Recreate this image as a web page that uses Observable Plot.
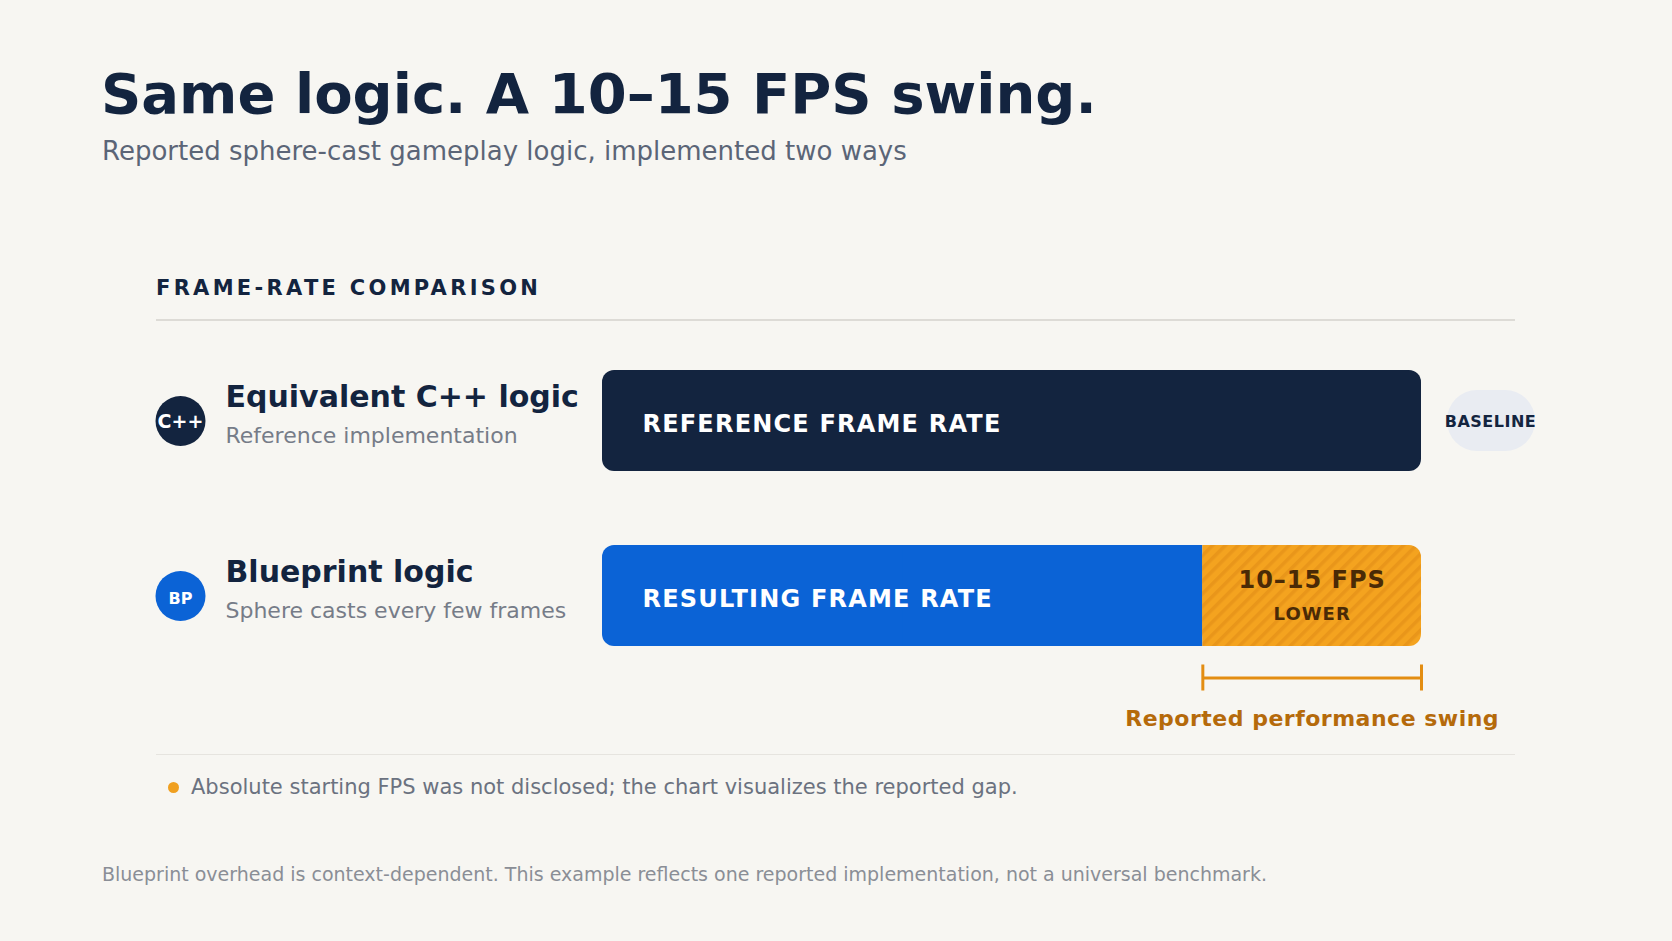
<!DOCTYPE html>
<html>
<head>
<meta charset="utf-8">
<script src="https://cdn.jsdelivr.net/npm/d3@7"></script>
<script src="https://cdn.jsdelivr.net/npm/@observablehq/plot@0.6"></script>
<style>
  html, body { margin: 0; padding: 0; background: #f7f6f2; }
  body { width: 1672px; height: 941px; position: relative; overflow: hidden; font-family: "DejaVu Sans", sans-serif; }
  .abs { position: absolute; white-space: nowrap; line-height: 1; }
  #title { left: 101px; top: 66px; font-size: 56px; font-weight: bold; color: #13243f; }
  #subtitle { left: 102px; top: 138px; font-size: 26px; color: #5b6577; }
  #section { left: 156px; top: 278px; font-size: 21px; font-weight: bold; color: #13243f; letter-spacing: 3.3px; }
  .rule { position: absolute; left: 156px; width: 1359px; }
  #rule1 { top: 319px; height: 2px; background: #dddbd6; }
  #rule2 { top: 754px; height: 1px; background: #e6e4df; }
  #notedot { position: absolute; left: 168px; top: 782px; width: 11px; height: 11px; border-radius: 50%; background: #f0a020; }
  #note { left: 191px; top: 777px; font-size: 21px; color: #6b7280; }
  #footer { left: 102px; top: 865px; font-size: 19px; color: #8a8e96; }
  #chart { position: absolute; left: 0; top: 330px; }
</style>
</head>
<body>
<div id="title" class="abs"></div>
<div id="subtitle" class="abs"></div>
<div id="section" class="abs"></div>
<div id="rule1" class="rule"></div>
<div id="chart"></div>
<div id="rule2" class="rule"></div>
<div id="notedot"></div>
<div id="note" class="abs"></div>
<div id="footer" class="abs"></div>
<script>
// ---- text ----
const titleText = "Same logic. A 10–15 FPS swing.";
const subtitleText = "Reported sphere-cast gameplay logic, implemented two ways";
const sectionText = "FRAME-RATE COMPARISON";
const noteText = "Absolute starting FPS was not disclosed; the chart visualizes the reported gap.";
const footerText = "Blueprint overhead is context-dependent. This example reflects one reported implementation, not a universal benchmark.";

// ---- data ----
const rows = ["Equivalent C++ logic", "Blueprint logic"];
const rowSubtitles = ["Reference implementation", "Sphere casts every few frames"];
const badges = ["C++", "BP"];
const barLabels = ["REFERENCE FRAME RATE", "RESULTING FRAME RATE"];
const relativeFrameRate = [100, 73.3];   // illustrative relative widths (absolute FPS not disclosed)
const swingAmount = "10–15 FPS";
const swingQualifier = "LOWER";
const baselineLabel = "BASELINE";
const swingCaption = "Reported performance swing";

document.getElementById("title").textContent = titleText;
document.getElementById("subtitle").textContent = subtitleText;
document.getElementById("section").textContent = sectionText;
document.getElementById("note").textContent = noteText;
document.getElementById("footer").textContent = footerText;

const navy = "#13243f", blue = "#0b63d6", orangeKey = "#f3a11e";
const rowData = rows.map((r, i) => ({
  row: r, sub: rowSubtitles[i], badge: badges[i], label: barLabels[i],
  value: relativeFrameRate[i], color: i === 0 ? navy : blue
}));
const gapDatum = { row: rows[1], start: relativeFrameRate[1], end: relativeFrameRate[0], amount: swingAmount, qual: swingQualifier };
const gapEnds = [{ row: rows[1], x: gapDatum.start }, { row: rows[1], x: gapDatum.end }];
const mid = d => (d.start + d.end) / 2;

const plot = Plot.plot({
  width: 1672, height: 420,
  marginLeft: 602, marginRight: 251, marginTop: 40, marginBottom: 104,
  x: { domain: [0, relativeFrameRate[0]], axis: null },
  y: { domain: rows, axis: null, paddingInner: 74 / 175, paddingOuter: 0 },
  color: { type: "identity" },
  style: { background: "transparent", fontFamily: "DejaVu Sans", overflow: "visible" },
  marks: [
    // reference bar
    Plot.barX([rowData[0]], { x1: 0, x2: "value", y: "row", fill: navy, rx: 12 }),
    // resulting bar (rounded left, square right)
    Plot.barX([rowData[1]], { x1: 0, x2: "value", y: "row", fill: blue, rx: 12 }),
    Plot.barX([rowData[1]], { x1: d => d.value / 2, x2: "value", y: "row", fill: blue }),
    // swing segment (square left, rounded right)
    Plot.barX([gapDatum], { x1: "start", x2: "end", y: "row", fill: orangeKey, rx: 12 }),
    Plot.barX([gapDatum], { x1: "start", x2: mid, y: "row", fill: orangeKey }),
    // baseline pill
    Plot.barX([rowData[0]], { x1: "value", x2: "value", y: "row", insetLeft: 26, insetRight: -114, insetTop: 20, insetBottom: 20, rx: 30, fill: "#e9ecf2" }),
    Plot.text([rowData[0]], { x: "value", y: "row", dx: 69, dy: 1, text: () => baselineLabel, fill: navy, fontWeight: "bold", fontSize: 16 }),
    // badges
    Plot.dot(rowData, { x: 0, y: "row", dx: -422, r: 25, fill: "color", stroke: null }),
    Plot.text([rowData[0]], { x: 0, y: "row", dx: -422, dy: 1, text: "badge", fill: "white", fontWeight: "bold", fontSize: 19 }),
    Plot.text([rowData[1]], { x: 0, y: "row", dx: -422, dy: 3, text: "badge", fill: "white", fontWeight: "bold", fontSize: 16 }),
    // row labels
    Plot.text(rowData, { x: 0, y: "row", dx: -377, dy: -24, text: "row", textAnchor: "start", fill: navy, fontWeight: "bold", fontSize: 30 }),
    Plot.text(rowData, { x: 0, y: "row", dx: -377, dy: 15, text: "sub", textAnchor: "start", fill: "#767c88", fontSize: 22 }),
    // in-bar labels
    Plot.text(rowData, { x: 0, y: "row", dx: 40, dy: 3.5, text: "label", textAnchor: "start", fill: "white", fontWeight: "bold", fontSize: 24 }),
    // swing labels
    Plot.text([gapDatum], { x: mid, y: "row", dy: -16, text: "amount", fill: "#4a2a06", fontWeight: "bold", fontSize: 24 }),
    Plot.text([gapDatum], { x: mid, y: "row", dy: 18, text: "qual", fill: "#4a2a06", fontWeight: "bold", fontSize: 18 }),
    // bracket
    Plot.ruleY([gapDatum], { x1: "start", x2: "end", y: "row", dy: 82, stroke: "#e38d12", strokeWidth: 3 }),
    Plot.tickX(gapEnds, { x: "x", y: "row", insetTop: 37.5, insetBottom: 37.5, dy: 82, stroke: "#e38d12", strokeWidth: 3 }),
    Plot.text([gapDatum], { x: mid, y: "row", dy: 123, text: () => swingCaption, fill: "#b56a0b", fontWeight: "bold", fontSize: 22 })
  ]
});

// stripes pattern for the swing segment
const svg = d3.select(plot);
const defs = svg.insert("defs", ":first-child");
const pat = defs.append("pattern").attr("id", "swing-stripes").attr("patternUnits", "userSpaceOnUse")
  .attr("width", 9).attr("height", 9).attr("patternTransform", "rotate(45)");
pat.append("rect").attr("width", 9).attr("height", 9).attr("fill", "#f4a31f");
pat.append("rect").attr("width", 3.5).attr("height", 9).attr("fill", "#e9961a");
svg.selectAll(`[fill="${orangeKey}"]`).attr("fill", "url(#swing-stripes)");

// letter spacing
const spacing = { "REFERENCE FRAME RATE": "1.2px", "RESULTING FRAME RATE": "1.2px", "BASELINE": "0.5px", "10–15 FPS": "1px", "LOWER": "1px", "Reported performance swing": "0.5px" };
svg.selectAll("text").each(function () {
  const t = this.textContent;
  if (spacing[t]) this.style.letterSpacing = spacing[t];
});

document.getElementById("chart").appendChild(plot);
</script>
</body>
</html>
